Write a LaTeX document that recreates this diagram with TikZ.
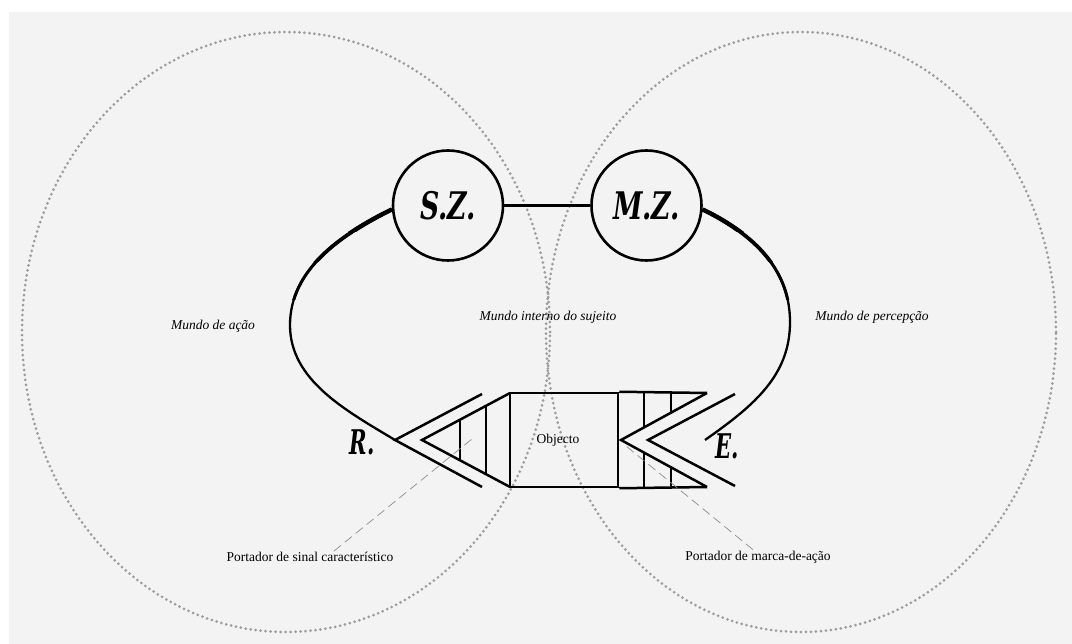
\documentclass[tikz,border=0pt]{standalone}
\usepackage{fontspec}
\setmainfont{Liberation Serif}
\newfontfamily\slab{DejaVu Serif}
\definecolor{bggray}{HTML}{F3F3F3}
\definecolor{dotgray}{HTML}{9C9C9C}
\definecolor{leadgray}{HTML}{8C8C8C}
\begin{document}
\begin{tikzpicture}[x=1pt,y=-1pt,
  ink/.style={draw=black, line width=2.5pt},
  world/.style={draw=dotgray, line width=3pt, line cap=round, dash pattern=on 0pt off 5pt},
  lead/.style={draw=leadgray, line width=0.7pt, dash pattern=on 9pt off 5pt},
  ital/.style={font=\fontsize{13.5}{16}\selectfont\itshape, inner sep=1pt},
  roman/.style={font=\fontsize{13.5}{16}\selectfont, inner sep=1pt},
  zone/.style={circle, draw=black, line width=2.6pt, minimum size=110pt, inner sep=0pt},
  big/.style={font=\slab\bfseries\itshape\fontsize{38}{38}\selectfont, inner sep=0pt},
  mid/.style={font=\slab\bfseries\itshape\fontsize{34}{34}\selectfont, inner sep=0pt}
]
\useasboundingbox (0,0) rectangle (1072,644);
\fill[white] (0,0) rectangle (1072,644);
\fill[bggray] (9,12) rectangle (1072,644);

% dotted worlds
\draw[world] (286,332) ellipse [x radius=264pt, y radius=300pt];
\draw[world] (801,332) ellipse [x radius=255pt, y radius=300pt];

% circles
\node[zone] (SZ) at (448,205.5) {};
\node[zone] (MZ) at (646.5,205.5) {};
\node[big] (SZt) at (448,206) {\scalebox{0.7}[1]{S.Z.}};
\node[big] (MZt) at (646.5,206) {\scalebox{0.7}[1]{M.Z.}};
\draw[ink] (SZ.east) -- (MZ.west);

% key points
\coordinate (Rapex) at (395,440);
\coordinate (Eend) at (705,440);
\coordinate (Lmid) at (290,325);
\coordinate (Rmid) at (790,322);

% arcs
\def\leftarc{(SZ.184) .. controls (340,235) and (290,270) .. (Lmid) .. controls (290,380) and (345,410) .. (Rapex)}
\def\rightarc{(MZ.356) .. controls (755,235) and (790,270) .. (Rmid) .. controls (790,375) and (755,405) .. (Eend)}
\draw[ink, line width=2.3pt] \leftarc;
\draw[ink, line width=2.3pt] \rightarc;
\begin{scope}
\clip (0,0) rectangle (1072,300);
\draw[ink, line width=3.0pt] \leftarc;
\draw[ink, line width=3.0pt] \rightarc;
\end{scope}
\begin{scope}
\clip (0,0) rectangle (1072,262);
\draw[ink, line width=3.7pt] \leftarc;
\draw[ink, line width=3.7pt] \rightarc;
\end{scope}
\begin{scope}
\clip (0,0) rectangle (1072,232);
\draw[ink, line width=4.4pt] \leftarc;
\draw[ink, line width=4.4pt] \rightarc;
\end{scope}

% left chevrons
\draw[ink] (482,394) -- (Rapex) -- (482,487);
\draw[ink] (510,393) -- (422,440) -- (510,487);
\draw[ink] (460,419.7) -- (460,460.3);
\draw[ink] (486,405.8) -- (486,474.2);

% object box
\node[draw=black, line width=2.5pt, minimum width=108pt, minimum height=94pt, inner sep=0pt] (obj) at (564,440) {};
\node[roman] (objt) at (558,440) {Objecto};
\draw[ink] (obj.north east) -- (707,393);
\draw[ink] (obj.south east) -- (707,487);
\draw[ink] (707,393) -- (621,440) -- (707,487);
\draw[ink] (735,394) -- (648,440) -- (735,486);
\draw[ink] (644,393) -- (644,427.4);
\draw[ink] (644,452.6) -- (644,487);
\draw[ink] (671,393) -- (671,412.7);
\draw[ink] (671,467.3) -- (671,487);

% letters
\node[mid] (R) at (362,442) {\scalebox{0.62}[1]{R.}};
\node[mid] (E) at (727,446) {\scalebox{0.62}[1]{E.}};

% labels
\node[ital] (acao) at (213,326) {Mundo de ação};
\node[ital] (interno) at (548,317) {Mundo interno do sujeito};
\node[ital] (perc) at (872,317) {Mundo de percepção};
\node[roman] (sinal) at (310,557) {Portador de sinal característico};
\node[roman] (marca) at (758,557) {Portador de marca-de-ação};

% leaders
\coordinate (Ltip) at (472,439);
\coordinate (Mtip) at (626,446);
\draw[lead] ([xshift=24]sinal.north) -- (Ltip);
\draw[lead] ([xshift=-5]marca.north) -- (Mtip);
\end{tikzpicture}
\end{document}
